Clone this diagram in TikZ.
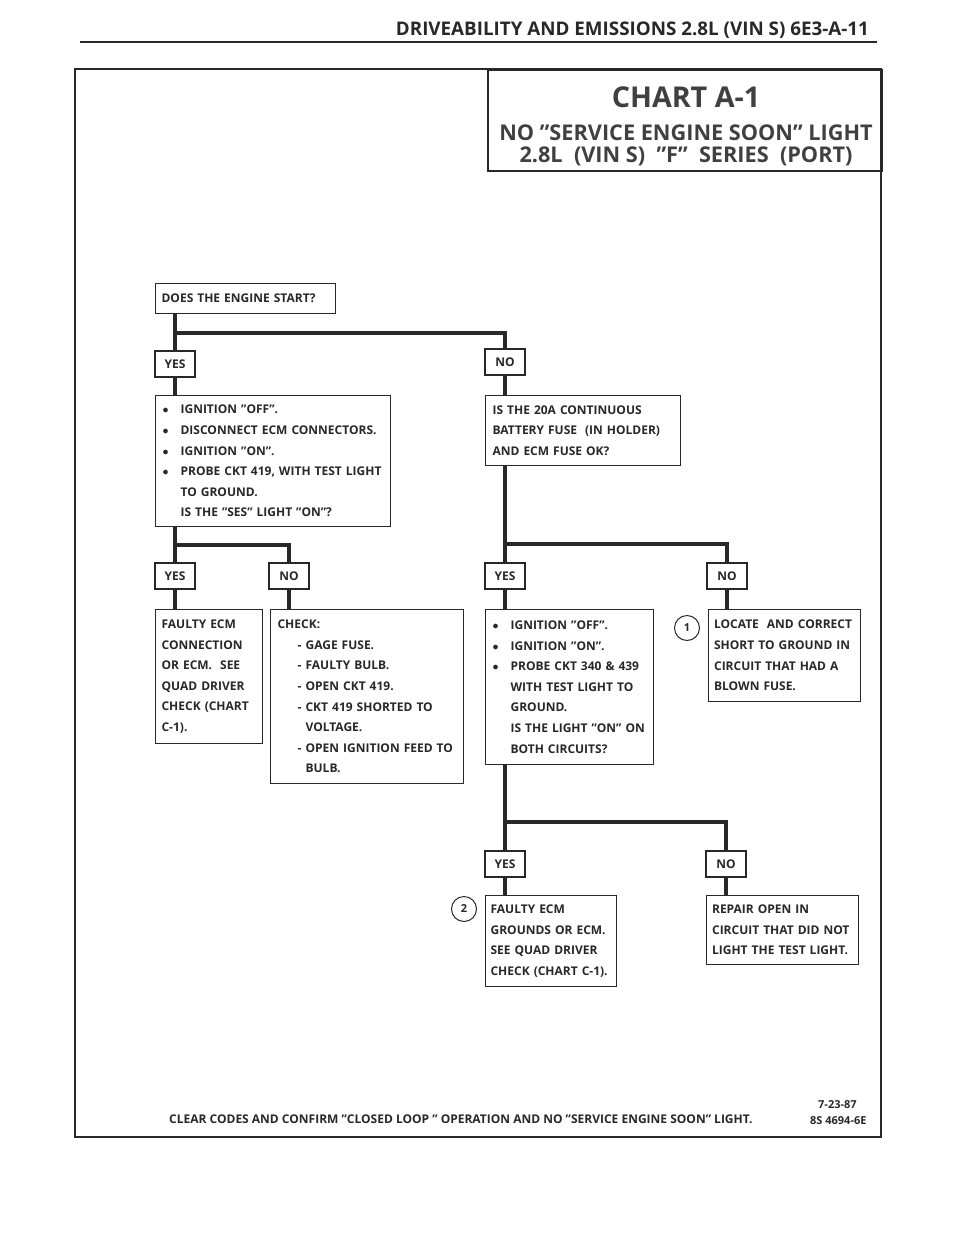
\documentclass[tikz,border=0pt]{standalone}
\usepackage{fontspec}
\setmainfont{Open Sans}
\usetikzlibrary{positioning}
\usepackage{xcolor}
\definecolor{inkcolor}{RGB}{40,40,40}
\newcommand{\itemdot}{\makebox[19pt][l]{\hspace{1pt}$\bullet$}}
\newcommand{\itemgap}{\hspace*{19pt}}
\newcommand{\dashitem}{\hspace*{20pt}\makebox[8pt][l]{-}}

\begin{document}
\begin{tikzpicture}[x=1pt, y=-1pt, every node/.style={text=inkcolor, font=\bfseries\fontsize{12}{20.6}\selectfont},
    box/.style={draw=inkcolor, line width=1.2pt, rectangle, anchor=north west, align=left, inner xsep=6pt, inner ysep=0pt},
    lbl/.style={draw=inkcolor, line width=1.2pt, rectangle, minimum width=40pt, minimum height=26pt, inner sep=0pt},
    num/.style={draw=inkcolor, circle, line width=1pt, minimum size=25pt, inner sep=0pt, font=\bfseries\fontsize{11}{13}\selectfont},
    flow/.style={draw=inkcolor, line width=4.5pt}]
    \tikzstyle{heading} = [anchor=base, inner sep=0pt]

    \useasboundingbox (0,0) rectangle (960,1242);

    % page head and frame
    \node[heading, anchor=base east, font=\bfseries\fontsize{18.8}{21}\selectfont] (pagehead) at (869,35) {DRIVEABILITY AND EMISSIONS 2.8L (VIN S) 6E3-A-11};
    \draw[draw=inkcolor, line width=2.5pt] (80,42) -- (877,42);
    \draw[draw=inkcolor, line width=2.5pt] (75,69) rectangle (881,1137);

    \node[draw=inkcolor, line width=1.5pt, anchor=north west, minimum width=394pt, minimum height=101pt] (chart) at (487,69) {};
    \node[heading, text=black!75, font=\bfseries\fontsize{28.7}{31}\selectfont] (charttitle) at (686,107) {CHART A-1};
    \node[heading, text=black!75, font=\bfseries\fontsize{21.7}{24}\selectfont] (chartsub) at (686,140) {NO "SERVICE ENGINE SOON" LIGHT};
    \node[heading, text=black!75, font=\bfseries\fontsize{21.7}{24}\selectfont] (chartvin) at (686,162) {2.8L \ (VIN S) \ "F" \ SERIES \ (PORT)};

    % first question
    \node[box, text width=168pt, minimum height=30pt] (start) at (155,283) {DOES THE ENGINE START?};
    \coordinate (j1) at (175,333);
    \node[lbl] (yes1) at (175,364) {YES};
    \node[lbl] (no1) at (505,362) {NO};

    \node[box, text width=223pt, minimum height=131pt] (probe1) at (155,395)
      {\itemdot IGNITION "OFF".\\ \itemdot DISCONNECT ECM CONNECTORS.\\ \itemdot IGNITION "ON".\\
       \itemdot PROBE CKT 419, WITH TEST LIGHT\\ \itemgap TO GROUND.\\ \itemgap IS THE "SES" LIGHT "ON"?};
    \node[box, text width=181pt, minimum height=70pt, inner xsep=7pt] (fuse) at (485,395)
      {IS THE 20A CONTINUOUS\\ BATTERY FUSE \ (IN HOLDER)\\ AND ECM FUSE OK?};

    \draw[flow] (start.south -| yes1) -- (yes1.north);
    \draw[flow] (j1) -| (no1.north);
    \draw[flow] (yes1.south) -- (probe1.north -| yes1);
    \draw[flow] (no1.south) -- (fuse.north -| no1);

    % ses light answer
    \coordinate (j2) at (175,545);
    \node[lbl] (yes2) at (175,576) {YES};
    \node[lbl] (no2) at (289,576) {NO};

    \node[box, text width=95pt, minimum height=134pt] (faulty1) at (155,609)
      {FAULTY ECM\\ CONNECTION\\ OR ECM. \ SEE\\ QUAD DRIVER\\ CHECK (CHART\\ C-1).};
    \node[box, text width=179pt, minimum height=174pt, inner xsep=7pt] (check) at (270,609)
      {CHECK:\\ \dashitem GAGE FUSE.\\ \dashitem FAULTY BULB.\\ \dashitem OPEN CKT 419.\\
       \dashitem CKT 419 SHORTED TO\\ \hspace*{28pt}VOLTAGE.\\ \dashitem OPEN IGNITION FEED TO\\ \hspace*{28pt}BULB.};

    \draw[flow] (probe1.south -| yes2) -- (yes2.north);
    \draw[flow] (j2) -| (no2.north);
    \draw[flow] (yes2.south) -- (faulty1.north -| yes2);
    \draw[flow] (no2.south) -- (check.north -| no2);

    % fuse answer
    \coordinate (j3) at (505,544);
    \node[lbl] (yes3) at (505,576) {YES};
    \node[lbl] (no3) at (727,576) {NO};

    \node[box, text width=156pt, minimum height=155pt] (probe2) at (485,609)
      {\itemdot IGNITION "OFF".\\ \itemdot IGNITION "ON".\\ \itemdot PROBE CKT 340 \& 439\\
       \itemgap WITH TEST LIGHT TO\\ \itemgap GROUND.\\ \itemgap IS THE LIGHT "ON" ON\\ \itemgap BOTH CIRCUITS?};
    \node[box, text width=141pt, minimum height=92pt, inner xsep=5.5pt] (short) at (708,609)
      {LOCATE \ AND CORRECT\\ SHORT TO GROUND IN\\ CIRCUIT THAT HAD A\\ BLOWN FUSE.};
    \node[num, left=8pt of short.north west, anchor=east, yshift=-19pt] (note1) {1};

    \draw[flow] (fuse.south -| yes3) -- (yes3.north);
    \draw[flow] (j3) -| (no3.north);
    \draw[flow] (yes3.south) -- (probe2.north -| yes3);
    \draw[flow] (no3.south) -- (short.north -| no3);

    % both circuits answer
    \coordinate (j4) at (505,822);
    \node[lbl] (yes4) at (505,864) {YES};
    \node[lbl] (no4) at (726,864) {NO};

    \node[box, text width=121pt, minimum height=91pt, inner xsep=5pt] (faulty2) at (485,895)
      {FAULTY ECM\\ GROUNDS OR ECM.\\ SEE QUAD DRIVER\\ CHECK (CHART C-1).};
    \node[box, text width=141pt, minimum height=69pt, inner xsep=5.5pt] (repair) at (706,895)
      {REPAIR OPEN IN\\ CIRCUIT THAT DID NOT\\ LIGHT THE TEST LIGHT.};
    \node[num, left=8pt of faulty2.north west, anchor=east, yshift=-14pt] (note2) {2};

    \draw[flow] (probe2.south -| yes4) -- (yes4.north);
    \draw[flow] (j4) -| (no4.north);
    \draw[flow] (yes4.south) -- (faulty2.north -| yes4);
    \draw[flow] (no4.south) -- (repair.north -| no4);

    % foot
    \node[heading, anchor=base west, font=\bfseries\fontsize{12}{14}\selectfont] (clear) at (169,1123)
      {CLEAR CODES AND CONFIRM "CLOSED LOOP " OPERATION AND NO "SERVICE ENGINE SOON" LIGHT.};
    \node[heading, anchor=base west, font=\bfseries\fontsize{11}{13}\selectfont] (date) at (818,1108) {7-23-87};
    \node[heading, anchor=base west, font=\bfseries\fontsize{11}{13}\selectfont] (code) at (810,1124) {8S 4694-6E};

\end{tikzpicture}
\end{document}
